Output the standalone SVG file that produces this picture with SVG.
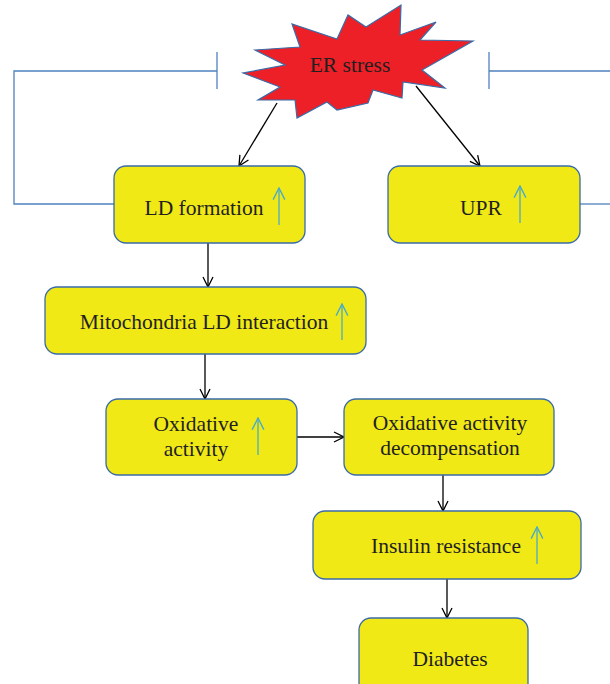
<svg xmlns="http://www.w3.org/2000/svg" width="610" height="684" viewBox="0 0 610 684">
<defs>
<marker id="ah" viewBox="0 0 12 12" refX="11" refY="6" markerWidth="12" markerHeight="12" markerUnits="userSpaceOnUse" orient="auto">
<path d="M1,1 L11,6 L1,11" fill="none" stroke="#000" stroke-width="1.3"/>
</marker>
<marker id="up" viewBox="0 0 12 12" refX="11" refY="6" markerWidth="14" markerHeight="14" markerUnits="userSpaceOnUse" orient="auto">
<path d="M1,1 L11,6 L1,11" fill="none" stroke="#4BACC6" stroke-width="1.2"/>
</marker>
</defs>
<style>
.box{fill:#F0E916;stroke:#3A6BA8;stroke-width:1.3}
.t{font-family:"Liberation Serif","Times New Roman",serif;font-size:21.5px;fill:#231F20;text-anchor:middle}
.c{stroke:#000;stroke-width:1.3;fill:none}
.inh{stroke:#4F81BD;stroke-width:1.3;fill:none}
.ua{stroke:#4BACC6;stroke-width:1.3;fill:none}
</style>
<rect width="610" height="684" fill="#fff"/>
<g id="connectors">
<polyline class="inh" points="114,204 14,204 14,71 217,71"/>
<line class="inh" x1="217" y1="52" x2="217" y2="89"/>
<polyline class="inh" points="610,71 489,71"/>
<line class="inh" x1="489" y1="52" x2="489" y2="89"/>
<line class="inh" x1="580" y1="204" x2="610" y2="204"/>
<line class="c" x1="277" y1="103" x2="239" y2="166" marker-end="url(#ah)"/>
<line class="c" x1="416" y1="86" x2="480" y2="166" marker-end="url(#ah)"/>
<line class="c" x1="208" y1="243" x2="208" y2="287" marker-end="url(#ah)"/>
<line class="c" x1="205" y1="354" x2="205" y2="399" marker-end="url(#ah)"/>
<line class="c" x1="297" y1="437" x2="344" y2="437" marker-end="url(#ah)"/>
<line class="c" x1="443" y1="475" x2="443" y2="511" marker-end="url(#ah)"/>
<line class="c" x1="447" y1="579" x2="447" y2="618" marker-end="url(#ah)"/>
</g>
<g id="er-stress">
<polygon points="255,50 300,47 292,24 337,39 348,15 366,27 401,5 400,35 436,22 420,40 473,41 422,70 445,88 403,82 402,98 373,90 368,103 337,110 327,102 297,118 295,100 258,100 280,87 243,73 285,65" fill="#EE2027" stroke="#3A6BA8" stroke-width="1.2"/>
<text class="t" x="350" y="72">ER stress</text>
</g>
<g id="ld-formation">
<rect class="box" x="114" y="166" width="191" height="77" rx="12"/>
<text class="t" x="204" y="215">LD formation</text>
<line class="ua" x1="279" y1="225" x2="279" y2="188" marker-end="url(#up)"/>
</g>
<g id="upr">
<rect class="box" x="388" y="166" width="192" height="77" rx="12"/>
<text class="t" x="481" y="215">UPR</text>
<line class="ua" x1="520" y1="223" x2="520" y2="186" marker-end="url(#up)"/>
</g>
<g id="mito">
<rect class="box" x="45" y="287" width="321" height="67" rx="12"/>
<text class="t" x="204" y="329">Mitochondria LD interaction</text>
<line class="ua" x1="342" y1="340" x2="342" y2="304" marker-end="url(#up)"/>
</g>
<g id="oxidative">
<rect class="box" x="106" y="399" width="191" height="76" rx="12"/>
<text class="t" x="196" y="431">Oxidative</text>
<text class="t" x="196" y="456">activity</text>
<line class="ua" x1="258" y1="455" x2="258" y2="418" marker-end="url(#up)"/>
</g>
<g id="decomp">
<rect class="box" x="344" y="399" width="210" height="76" rx="12"/>
<text class="t" x="450" y="430">Oxidative activity</text>
<text class="t" x="450" y="455">decompensation</text>
</g>
<g id="insulin">
<rect class="box" x="313" y="511" width="268" height="68" rx="12"/>
<text class="t" x="446" y="553">Insulin resistance</text>
<line class="ua" x1="537" y1="564" x2="537" y2="527" marker-end="url(#up)"/>
</g>
<g id="diabetes">
<rect class="box" x="359" y="618" width="169" height="80" rx="12"/>
<text class="t" x="450" y="666">Diabetes</text>
</g>
</svg>
